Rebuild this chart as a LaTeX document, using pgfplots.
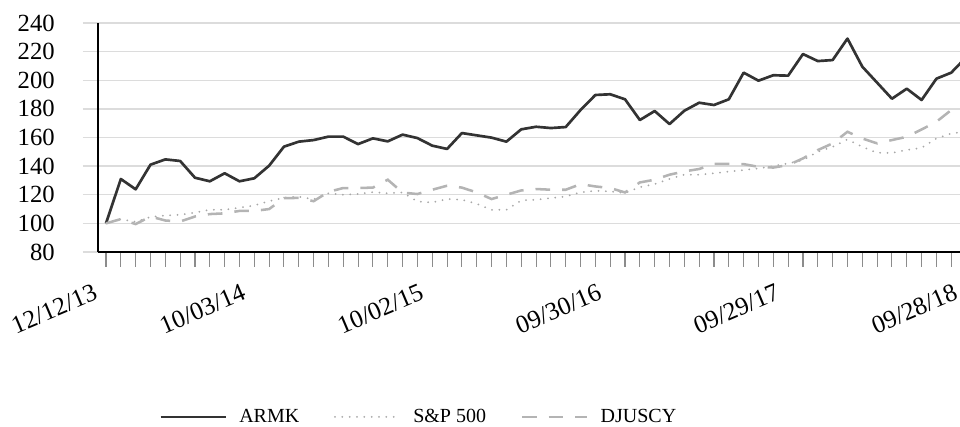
\documentclass[border=0pt]{standalone}
\usepackage{fontspec}
\setmainfont{Liberation Serif}
\usepackage{pgfplots}
\pgfplotsset{compat=1.18}
\definecolor{armk}{HTML}{333333}
\definecolor{spc}{HTML}{A8A8A8}
\definecolor{djc}{HTML}{B4B4B4}
\definecolor{gridc}{HTML}{DCDCDC}
\definecolor{tickc}{HTML}{8C8C8C}
\begin{document}
\begin{tikzpicture}
\begin{axis}[name=a, scale only axis, width=654.4pt, height=171.75pt,
  xmin=-0.54, xmax=58.3, ymin=80, ymax=240,
  axis x line*=bottom, axis y line*=left,
  axis line style={black, line width=2.2pt},
  ytick={80,100,...,240}, ymajorgrids,
  grid style={color=gridc, line width=1.1pt},
  xtick={0,...,58}, xticklabels={},
  tick align=outside, major tick length=11.25pt,
  xtick style={color=tickc, line width=0.8pt},
  ytick style={color=gridc, line width=1.1pt},
  extra x ticks={0,10,22,34,46,58},
  extra x tick labels={12/12/13,10/03/14,10/02/15,09/30/16,09/29/17,09/28/18},
  extra x tick style={major tick length=0pt, xticklabel style={rotate=23, anchor=north east, inner sep=0pt, xshift=-18.5pt, yshift=-17.5pt, font=\fontsize{19}{23}\selectfont}},
  /pgf/number format/assume math mode=true,
  tick label style={font=\fontsize{18.5}{22}\selectfont},
  yticklabel style={inner sep=0pt, xshift=-21pt},
  legend style={at={(0.368,-0.72)}, anchor=center, draw=none, fill=none,
    font=\fontsize{15}{18}\selectfont,
    /tikz/every odd column/.append style={column sep=7pt},
    /tikz/every even column/.append style={column sep=24pt}},
  legend columns=3,
  legend image code/.code={\draw[#1] (0pt,0pt) -- (49pt,0pt);},
]
\addplot[armk, line width=2pt, line join=round] coordinates {
(0,100) (1,131) (2,123.8) (3,141) (4,144.7) (5,143.6) (6,131.9) (7,129.4) (8,135) (9,129.4)
(10,131.5) (11,140.3) (12,153.6) (13,157.1) (14,158.2) (15,160.6) (16,160.6) (17,155.4) (18,159.4) (19,157.3)
(20,162) (21,159.6) (22,154.3) (23,152) (24,163.1) (25,161.5) (26,159.9) (27,157.1) (28,165.7) (29,167.5)
(30,166.6) (31,167.3) (32,179.2) (33,189.7) (34,190.2) (35,186.7) (36,172.2) (37,178.5) (38,169.4) (39,178.7)
(40,184.3) (41,182.7) (42,186.7) (43,205.3) (44,199.7) (45,203.5) (46,203.2) (47,218.3) (48,213.4) (49,214.1)
(50,229.1) (51,209.5) (52,198.3) (53,187.1) (54,194.1) (55,186.2) (56,201.1) (57,205.3) (58,216)
};
\addlegendentry{ARMK}
\addplot[spc, line width=1.5pt, line cap=round, dash pattern=on 0pt off 5.5pt] coordinates {
(0,100) (1,103) (2,101) (3,104.5) (4,105.5) (5,106) (6,107.5) (7,109.5) (8,109.5) (9,111)
(10,112.5) (11,115.5) (12,118) (13,118.7) (14,116.8) (15,121) (16,120) (17,120.5) (18,121.9) (19,121)
(20,121.6) (21,115.3) (22,114.6) (23,117) (24,116.5) (25,113.7) (26,109.5) (27,109.5) (28,116) (29,116.5)
(30,117.7) (31,118.8) (32,121.6) (33,122.8) (34,122.3) (35,121.2) (36,125.3) (37,127.4) (38,131) (39,134)
(40,134) (41,135) (42,136.2) (43,137.2) (44,138.4) (45,140) (46,141.9) (47,144.2) (48,150) (49,153.5)
(50,158.6) (51,153.5) (52,149.3) (53,149.3) (54,151.2) (55,152.8) (56,159.3) (57,162.8) (58,164)
};
\addlegendentry{S\&P 500}
\addplot[djc, line width=1.9pt, dash pattern=on 11pt off 9pt] coordinates {
(0,100) (1,103) (2,99.5) (3,104.8) (4,102) (5,101.3) (6,104.8) (7,106.5) (8,107) (9,108.7)
(10,108.7) (11,110) (12,117.6) (13,117.8) (14,115.5) (15,122) (16,124.7) (17,124.7) (18,125) (19,130.5)
(20,121.5) (21,120.5) (22,123.5) (23,126.3) (24,125) (25,121.6) (26,117) (27,120) (28,123) (29,124)
(30,123.5) (31,123.5) (32,127.4) (33,125.8) (34,124.7) (35,121.6) (36,128.6) (37,130.5) (38,134) (39,136.3)
(40,138) (41,141.6) (42,141.5) (43,141.4) (44,139.5) (45,139) (46,140.7) (47,145.4) (48,151.2) (49,155.9)
(50,164) (51,159.3) (52,155.9) (53,158.2) (54,160.5) (55,165.6) (56,171) (57,179.2) (58,181)
};
\addlegendentry{DJUSCY}
\end{axis}
\pgfresetboundingbox
\path[use as bounding box] ([xshift=-73.5pt,yshift=-131.25pt]a.south west) rectangle ([xshift=646.5pt,yshift=189pt]a.south west);
\end{tikzpicture}
\end{document}
